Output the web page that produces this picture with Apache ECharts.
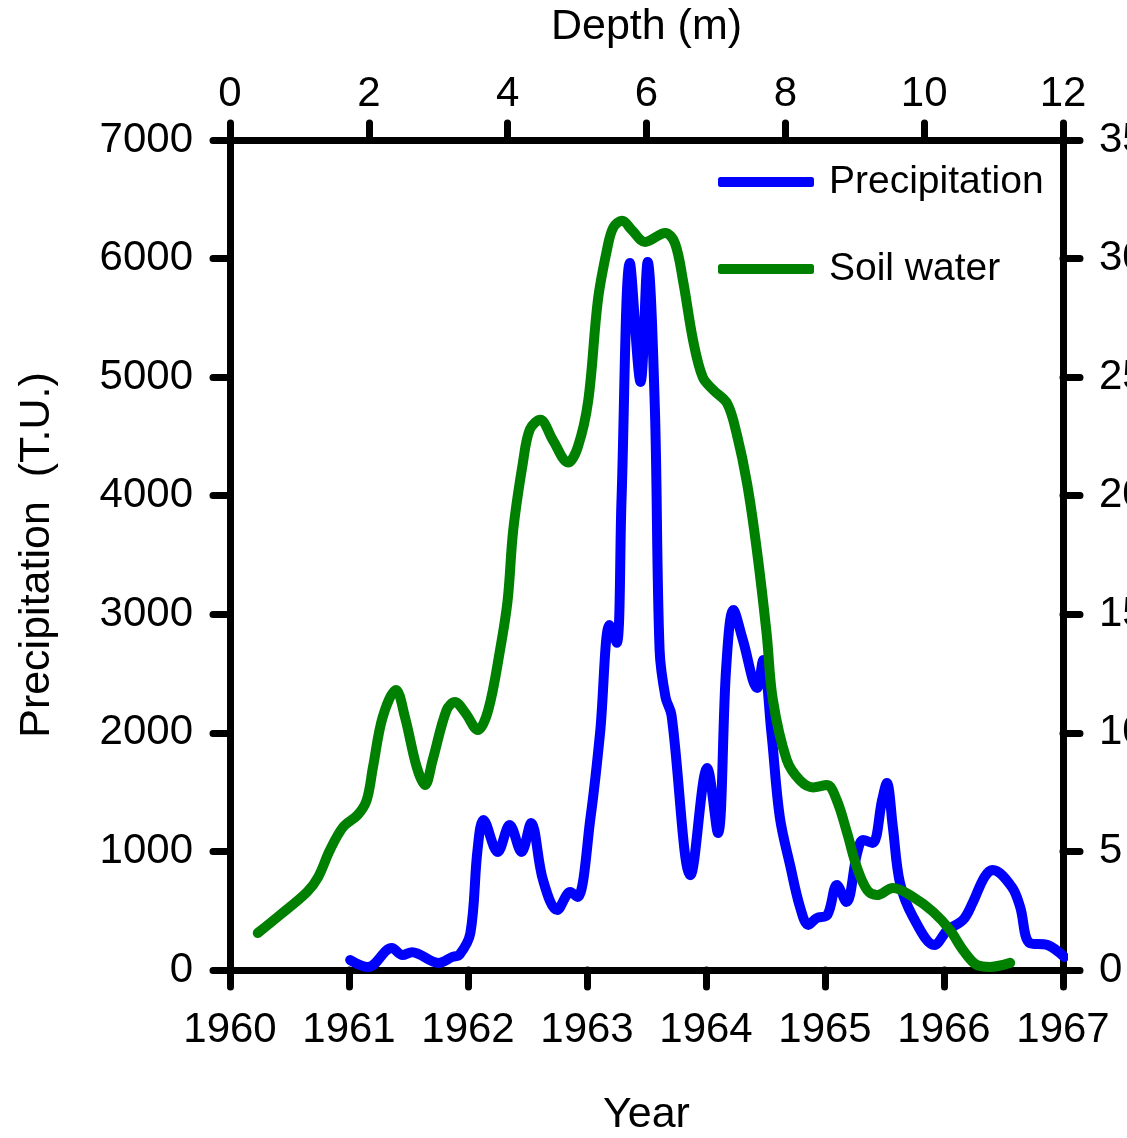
<!DOCTYPE html>
<html>
<head>
<meta charset="utf-8">
<script src="https://cdn.jsdelivr.net/npm/echarts@6/dist/echarts.min.js"></script>
<style>
    html, body { margin: 0; padding: 0; background: #fff; }
    #chart { width: 1127px; height: 1138px; }
</style>
</head>
<body>
<div id="chart"></div>
<script>
// precipitation (T.U.) against year
var precipYears = [1961.01, 1961.16, 1961.36, 1961.45, 1961.53, 1961.75, 1961.87, 1961.93, 1962.02, 1962.08,
    1962.13, 1962.25, 1962.35, 1962.45, 1962.53, 1962.63, 1962.75, 1962.86, 1962.92, 1963.03,
    1963.11, 1963.19, 1963.25, 1963.29, 1963.36, 1963.45, 1963.51, 1963.57, 1963.61, 1963.66,
    1963.71, 1963.87, 1964.01, 1964.10, 1964.17, 1964.23, 1964.31, 1964.43, 1964.48, 1964.55,
    1964.62, 1964.71, 1964.79, 1964.86, 1964.93, 1965.02, 1965.10, 1965.18, 1965.27, 1965.32,
    1965.40, 1965.48, 1965.52, 1965.57, 1965.63, 1965.74, 1965.92, 1966.03, 1966.16, 1966.24,
    1966.34, 1966.41, 1966.57, 1966.64, 1966.72, 1966.87, 1967.01];
var precipValues = [84, 25, 185, 126, 150, 60, 110, 130, 312, 1012,
    1265, 995, 1223, 995, 1240, 760, 506, 658, 616, 1290,
    2000, 2910, 2760, 3964, 5963, 4960, 5971, 4748, 2700, 2300,
    2150, 800, 1703, 1155, 2556, 3036, 2783, 2378, 2614, 1998,
    1290, 869, 531, 380, 438, 464, 717, 573, 987, 1096,
    1071, 1434, 1577, 1206, 734, 447, 211, 337, 422, 565,
    784, 843, 700, 531, 228, 211, 110];

// soil water against depth (m)
var soilDepths = [0.40, 0.72, 1.11, 1.27, 1.44, 1.63, 1.84, 1.97, 2.06, 2.20,
    2.39, 2.52, 2.69, 2.81, 2.92, 3.12, 3.24, 3.39, 3.57, 3.72,
    3.89, 4.00, 4.08, 4.22, 4.32, 4.47, 4.65, 4.87, 5.01, 5.16,
    5.30, 5.43, 5.52, 5.65, 5.79, 5.98, 6.27, 6.41, 6.53, 6.67,
    6.81, 6.96, 7.16, 7.30, 7.45, 7.59, 7.73, 7.82, 8.02, 8.21,
    8.40, 8.60, 8.74, 8.89, 9.03, 9.18, 9.32, 9.55, 9.84, 10.13,
    10.37, 10.56, 10.76, 10.95, 11.24];
var soilValues = [1.56, 2.32, 3.29, 3.92, 5.06, 6.03, 6.54, 7.17, 8.56, 10.67,
    11.81, 10.67, 8.56, 7.8, 8.86, 10.96, 11.3, 10.84, 10.12, 10.96,
    13.49, 15.6, 18.55, 21.4, 22.8, 23.2, 22.35, 21.4, 22.05, 24.0,
    28.25, 30.36, 31.3, 31.6, 31.2, 30.7, 31.08, 30.65, 29.0, 26.57,
    25.0, 24.46, 23.9, 22.6, 20.5, 17.7, 14.2, 11.4, 8.86, 8.0,
    7.7, 7.8, 7.17, 5.78, 4.34, 3.37, 3.16, 3.46, 3.08, 2.45,
    1.69, 0.84, 0.21, 0.13, 0.30];

var FONT = 'Liberation Sans, Arial, sans-serif';

function zip(xs, ys) {
    var out = [];
    for (var i = 0; i < xs.length; i++) {
        out.push([xs[i], ys[i]]);
    }
    return out;
}

function plain(v) {
    return String(v);
}

function axisBase(extra) {
    var base = {
        type: 'value',
        splitLine: { show: false },
        axisLine: { show: true, onZero: false, lineStyle: { color: '#000', width: 7 } },
        axisTick: { show: true, inside: false, length: 17, lineStyle: { color: '#000', width: 7, cap: 'round' } },
        nameTextStyle: { color: '#000', fontSize: 43, fontFamily: FONT }
    };
    for (var k in extra) base[k] = extra[k];
    return base;
}

function labelStyle(margin) {
    return { color: '#000', fontSize: 42, fontFamily: FONT, margin: margin, formatter: plain };
}

var myChart = echarts.init(document.getElementById('chart'));
myChart.setOption({
    animation: false,
    backgroundColor: '#fff',
    grid: {
        left: 230,
        right: 64,
        top: 140,
        bottom: 168,
        containLabel: false,
        outerBoundsMode: 'none'
    },
    legend: {
        orient: 'vertical',
        left: 713,
        top: 157,
        icon: 'roundRect',
        itemWidth: 96,
        itemHeight: 10,
        itemGap: 47,
        textStyle: { color: '#000', fontSize: 39, fontFamily: FONT, lineHeight: 40, padding: [0, 0, 0, 10] },
        data: ['Precipitation', 'Soil water']
    },
    xAxis: [
        axisBase({
            position: 'bottom',
            min: 1960, max: 1967, interval: 1,
            name: 'Year', nameLocation: 'middle', nameGap: 124,
            axisLabel: labelStyle(39)
        }),
        axisBase({
            position: 'top',
            min: 0, max: 12, interval: 2,
            name: 'Depth (m)', nameLocation: 'middle', nameGap: 91,
            axisLabel: labelStyle(25)
        })
    ],
    yAxis: [
        axisBase({
            position: 'left',
            min: 0, max: 7000, interval: 1000,
            name: 'Precipitation  (T.U.)', nameLocation: 'middle', nameGap: 171,
            axisLabel: labelStyle(37)
        }),
        axisBase({
            position: 'right',
            min: 0, max: 35, interval: 5,
            axisLabel: labelStyle(36)
        })
    ],
    series: [
        {
            name: 'Precipitation',
            type: 'line',
            xAxisIndex: 0,
            yAxisIndex: 0,
            smooth: 0.35,
            symbol: 'none',
            color: '#0000ff',
            lineStyle: { color: '#0000ff', width: 10, cap: 'round', join: 'round' },
            data: zip(precipYears, precipValues)
        },
        {
            name: 'Soil water',
            type: 'line',
            xAxisIndex: 1,
            yAxisIndex: 1,
            smooth: 0.35,
            symbol: 'none',
            color: '#008000',
            lineStyle: { color: '#008000', width: 10, cap: 'round', join: 'round' },
            data: zip(soilDepths, soilValues)
        }
    ]
});
</script>
</body>
</html>
